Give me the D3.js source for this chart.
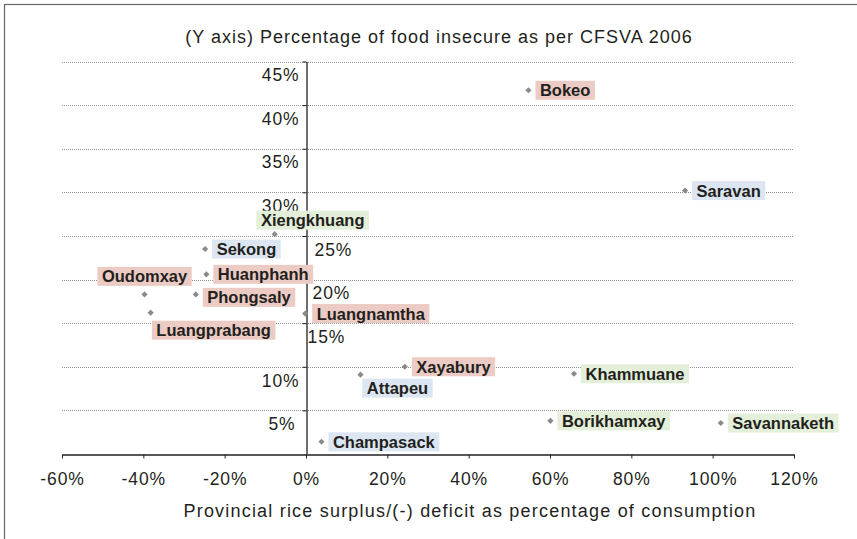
<!DOCTYPE html>
<html>
<head>
<meta charset="utf-8">
<script src="https://cdn.jsdelivr.net/npm/d3@7"></script>
<style>
body { margin: 0; background: #fff; }
svg text { font-family: "Liberation Sans", Arial, sans-serif; fill: #231f20; }
</style>
</head>
<body>
<script>
// provinces, rice surplus/deficit (x) and share food insecure (y)
var provinces = ["Bokeo", "Saravan", "Xiengkhuang", "Sekong", "Huanphanh", "Oudomxay", "Phongsaly",
  "Luangprabang", "Luangnamtha", "Xayabury", "Attapeu", "Champasack", "Khammuane", "Borikhamxay", "Savannaketh"];
var surplus = [0.547, 0.932, -0.077, -0.248, -0.245, -0.397, -0.271, -0.382, -0.002, 0.243, 0.134, 0.038, 0.659, 0.601, 1.02];
var insecure = [0.417, 0.302, 0.252, 0.235, 0.206, 0.183, 0.183, 0.162, 0.161, 0.100, 0.091, 0.014, 0.092, 0.038, 0.0355];
var groups = ["north", "south", "centre", "south", "north", "north", "north",
  "north", "north", "north", "south", "south", "centre", "centre", "centre"];

var xTicks = [-0.6, -0.4, -0.2, 0, 0.2, 0.4, 0.6, 0.8, 1.0, 1.2];
var yTicks = [0.05, 0.10, 0.15, 0.20, 0.25, 0.30, 0.35, 0.40, 0.45];
var yTicksRight = [0.15, 0.20, 0.25];

var groupColor = { north: "#ebcbc3", south: "#dce6f2", centre: "#e3efd8" };

// label box placement relative to the point (default: right of it)
var placement = {
  "Xiengkhuang": { cx: 38, cy: -14 },
  "Oudomxay": { cx: 0, cy: -18 },
  "Luangprabang": { cx: 63, cy: 17.5 },
  "Attapeu": { cx: 37, cy: 13.5 },
  "Phongsaly": { dy: 3 }
};

var width = 857, height = 539;
var svg = d3.select("body").append("svg")
  .attr("width", width)
  .attr("height", height);

svg.append("rect")
  .attr("x", 4.5).attr("y", 4.5)
  .attr("width", width).attr("height", height)
  .attr("fill", "none").attr("stroke", "#666").attr("stroke-width", 1.2);

var x = d3.scaleLinear().domain([-0.6, 1.2]).range([62, 794]);
var y = d3.scaleLinear().domain([0, 0.45]).range([454, 61.5]);
var pct = function(d) { return d3.format(".0%")(d).replace("\u2212", "-"); };

svg.append("text")
  .attr("x", 439).attr("y", 43)
  .attr("text-anchor", "middle")
  .style("font-size", "18px")
  .style("letter-spacing", "1px")
  .text("(Y axis) Percentage of food insecure as per CFSVA 2006");

// gridlines
svg.append("g").selectAll("line")
  .data(yTicks)
  .join("line")
  .attr("x1", x(-0.6)).attr("x2", x(1.2))
  .attr("y1", function(d) { return Math.round(y(d)) + 0.5; })
  .attr("y2", function(d) { return Math.round(y(d)) + 0.5; })
  .attr("stroke", "#777")
  .attr("stroke-width", 0.8)
  .attr("stroke-dasharray", "1,1");

// x axis
var xAxis = svg.append("g")
  .attr("transform", "translate(0," + (y(0) + 0.5) + ")")
  .call(d3.axisBottom(x).tickValues(xTicks).tickFormat(pct).tickSize(4).tickSizeOuter(0));
xAxis.select(".domain").attr("stroke", "#231f20").attr("stroke-width", 1.3);
xAxis.selectAll(".tick line").attr("stroke", "#231f20");
xAxis.selectAll(".tick text")
  .attr("y", 18.5)
  .attr("dy", "0.71em")
  .style("font-size", "17.5px")
  .style("letter-spacing", "0.9px")
  .style("font-family", "\"Liberation Sans\", Arial, sans-serif")
  .attr("fill", "#231f20");

// y axis at x = 0
var yAxis = svg.append("g")
  .attr("transform", "translate(" + (Math.round(x(0)) + 0.5) + ",0)")
  .call(d3.axisLeft(y).tickValues(yTicks).tickFormat(pct).tickSize(4).tickSizeOuter(0));
yAxis.select(".domain").attr("stroke", "#231f20").attr("stroke-width", 1.3);
yAxis.selectAll(".tick line").attr("stroke", "#231f20");
yAxis.selectAll(".tick text")
  .attr("dy", "1.1em")
  .style("font-size", "17.5px")
  .style("letter-spacing", "0.9px")
  .style("font-family", "\"Liberation Sans\", Arial, sans-serif")
  .attr("fill", "#231f20")
  .attr("x", function(d) {
    if (yTicksRight.indexOf(d) >= 0) return d === 0.15 ? 1 : (d === 0.20 ? 6 : 8);
    return d === 0.05 ? -11 : -7;
  })
  .attr("text-anchor", function(d) { return yTicksRight.indexOf(d) >= 0 ? "start" : "end"; });

svg.append("text")
  .attr("x", 470).attr("y", 517)
  .attr("text-anchor", "middle")
  .style("font-size", "18px")
  .style("letter-spacing", "1.2px")
  .text("Provincial rice surplus/(-) deficit as percentage of consumption");

// points
var data = provinces.map(function(p, i) {
  return { name: p, sx: surplus[i], fi: insecure[i], group: groups[i] };
});

svg.append("g").selectAll("path")
  .data(data)
  .join("path")
  .attr("d", d3.symbol().type(d3.symbolSquare).size(19))
  .attr("transform", function(d) { return "translate(" + x(d.sx) + "," + y(d.fi) + ") rotate(45)"; })
  .attr("fill", "#8a8a8a");

// labels
var labels = svg.append("g").selectAll("g")
  .data(data)
  .join("g");

labels.append("rect").attr("class", "bg");
labels.append("text")
  .style("font-size", "16.5px")
  .style("font-weight", "bold")
  .text(function(d) { return d.name; });

labels.each(function(d) {
  var g = d3.select(this);
  var t = g.select("text");
  var w = t.node().getComputedTextLength() + 9;
  var h = 19;
  var px = x(d.sx), py = y(d.fi);
  var p = placement[d.name] || {};
  var left, top;
  if (p.cx !== undefined) {
    left = px + p.cx - w / 2;
    top = py + p.cy - h / 2;
  } else {
    left = px + 7;
    top = py - h / 2 + (p.dy || 0);
  }
  g.select("rect")
    .attr("x", left).attr("y", top)
    .attr("width", w).attr("height", h)
    .attr("fill", groupColor[d.group]);
  t.attr("x", left + 4.5).attr("y", top + 15.5);
});
</script>
</body>
</html>
